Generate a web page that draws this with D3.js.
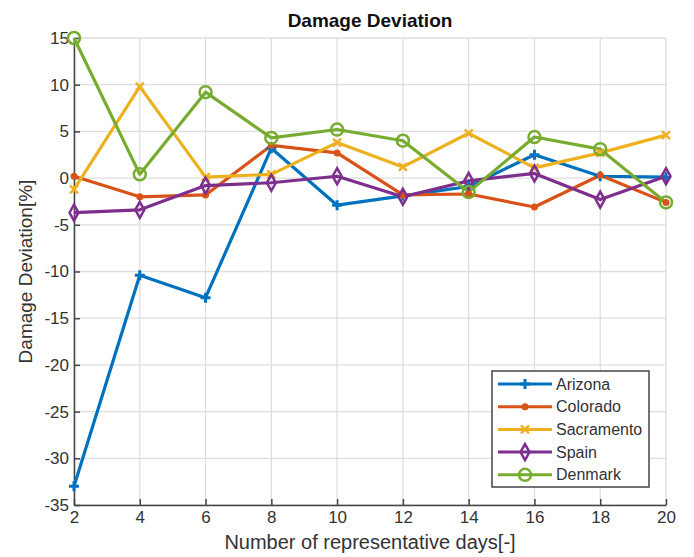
<!DOCTYPE html>
<html>
<head>
<meta charset="utf-8">
<script src="https://cdn.jsdelivr.net/npm/d3@7"></script>
<style>
  body { margin: 0; background: #fff; }
  svg { font-family: "Liberation Sans", Arial, sans-serif; }
</style>
</head>
<body>
<div id="chart"></div>
<script>
// Data
const days = [2, 4, 6, 8, 10, 12, 14, 16, 18, 20];
const arizona    = [-33, -10.4, -12.8, 3.2, -2.9, -1.9, -0.9, 2.5, 0.2, 0.1];
const colorado   = [0.2, -2.0, -1.8, 3.5, 2.7, -1.8, -1.7, -3.1, 0.3, -2.6];
const sacramento = [-1.2, 9.8, 0.1, 0.4, 3.8, 1.2, 4.8, 1.1, 2.7, 4.6];
const spain      = [-3.7, -3.4, -0.8, -0.5, 0.2, -2.0, -0.3, 0.5, -2.3, 0.2];
const denmark    = [15, 0.4, 9.2, 4.3, 5.2, 4.0, -1.5, 4.4, 3.1, -2.6];
const yTicks = [-35, -30, -25, -20, -15, -10, -5, 0, 5, 10, 15];
const xTicks = [2, 4, 6, 8, 10, 12, 14, 16, 18, 20];

const series = [
    { name: 'Arizona', values: arizona, color: '#0072BD', marker: 'plus' },
    { name: 'Colorado', values: colorado, color: '#D95319', marker: 'dot' },
    { name: 'Sacramento', values: sacramento, color: '#EDB120', marker: 'cross' },
    { name: 'Spain', values: spain, color: '#7E2F8E', marker: 'diamond' },
    { name: 'Denmark', values: denmark, color: '#77AC30', marker: 'circle' }
];

const width = 694, height = 557;
const margin = { top: 38, right: 28, bottom: 52, left: 74 };
const innerW = width - margin.left - margin.right;
const innerH = height - margin.top - margin.bottom;

const svg = d3.select('#chart').append('svg')
    .attr('width', width)
    .attr('height', height);

const g = svg.append('g')
    .attr('transform', `translate(${margin.left},${margin.top})`);

const x = d3.scaleLinear().domain([2, 20]).range([0, innerW]);
const y = d3.scaleLinear().domain([-35, 15]).range([innerH, 0]);

// Grid lines
g.append('g')
    .selectAll('line')
    .data(xTicks)
    .join('line')
    .attr('x1', d => x(d)).attr('x2', d => x(d))
    .attr('y1', 0).attr('y2', innerH)
    .style('stroke', '#dedede')
    .style('stroke-width', 1.3);

g.append('g')
    .selectAll('line')
    .data(yTicks)
    .join('line')
    .attr('x1', 0).attr('x2', innerW)
    .attr('y1', d => y(d)).attr('y2', d => y(d))
    .style('stroke', '#dedede')
    .style('stroke-width', 1.3);

// Axes (plain hyphen for negatives, like the original)
const fmt = d => String(d);
const xAxis = g.append('g')
    .attr('transform', `translate(0,${innerH})`)
    .call(d3.axisBottom(x).tickValues(xTicks).tickFormat(fmt)
        .tickSizeInner(-6).tickSizeOuter(0).tickPadding(6));

const yAxis = g.append('g')
    .call(d3.axisLeft(y).tickValues(yTicks).tickFormat(fmt)
        .tickSizeInner(-6).tickSizeOuter(0).tickPadding(5));

[xAxis, yAxis].forEach(ax => {
    ax.select('.domain').style('stroke', '#444').style('stroke-width', 1.5);
    ax.selectAll('.tick line').style('stroke', '#444').style('stroke-width', 1.5);
    ax.selectAll('.tick text')
        .style('font-size', '17px')
        .style('fill', '#333')
        .style('font-family', '"Liberation Sans", Arial, sans-serif');
});

// Lines
const line = d3.line()
    .x((d, i) => x(days[i]))
    .y(d => y(d));

series.forEach(s => {
    g.append('path')
        .datum(s.values)
        .attr('d', line)
        .style('fill', 'none')
        .style('stroke', s.color)
        .style('stroke-width', 3.2)
        .style('stroke-linejoin', 'round');
});

function drawMarker(sel, type, color) {
    if (type === 'plus') {
        sel.append('path').attr('d', 'M-5,0H5M0,-5V5')
            .style('stroke', color).style('stroke-width', 3).style('fill', 'none');
    } else if (type === 'dot') {
        sel.append('circle').attr('r', 3.5).style('fill', color);
    } else if (type === 'cross') {
        sel.append('path').attr('d', 'M-4,-4L4,4M-4,4L4,-4')
            .style('stroke', color).style('stroke-width', 2.5).style('fill', 'none');
    } else if (type === 'diamond') {
        sel.append('path').attr('d', 'M0,-8L4.5,0L0,8L-4.5,0Z')
            .style('stroke', color).style('stroke-width', 2.5).style('fill', 'none');
    } else if (type === 'circle') {
        sel.append('circle').attr('r', 6)
            .style('stroke', color).style('stroke-width', 2.5).style('fill', 'none');
    }
}

series.forEach(s => {
    g.append('g')
        .selectAll('g')
        .data(s.values)
        .join('g')
        .attr('transform', (d, i) => `translate(${x(days[i])},${y(d)})`)
        .each(function () { drawMarker(d3.select(this), s.marker, s.color); });
});

// Title and axis labels
svg.append('text')
    .attr('x', margin.left + innerW / 2)
    .attr('y', 27)
    .attr('text-anchor', 'middle')
    .style('font-size', '19px')
    .style('font-weight', 'bold')
    .style('fill', '#111')
    .text('Damage Deviation');

svg.append('text')
    .attr('x', margin.left + innerW / 2)
    .attr('y', 549)
    .attr('text-anchor', 'middle')
    .style('font-size', '20px')
    .style('fill', '#333')
    .text('Number of representative days[-]');

svg.append('text')
    .attr('transform', `translate(32,${margin.top + innerH / 2}) rotate(-90)`)
    .attr('text-anchor', 'middle')
    .style('font-size', '19px')
    .style('fill', '#333')
    .text('Damage Deviation[%]');

// Legend
const legend = svg.append('g').attr('transform', 'translate(492,371)');
legend.append('rect')
    .attr('width', 157).attr('height', 116)
    .style('fill', '#fff')
    .style('stroke', '#444')
    .style('stroke-width', 1.5);

series.forEach((s, i) => {
    const row = legend.append('g').attr('transform', `translate(0,${13 + i * 22.7})`);
    row.append('line')
        .attr('x1', 6).attr('x2', 60)
        .style('stroke', s.color).style('stroke-width', 3);
    drawMarker(row.append('g').attr('transform', 'translate(33,0)'), s.marker, s.color);
    row.append('text')
        .attr('x', 64).attr('y', 5.5)
        .style('font-size', '16px')
        .style('fill', '#333')
        .text(s.name);
});
</script>
</body>
</html>
